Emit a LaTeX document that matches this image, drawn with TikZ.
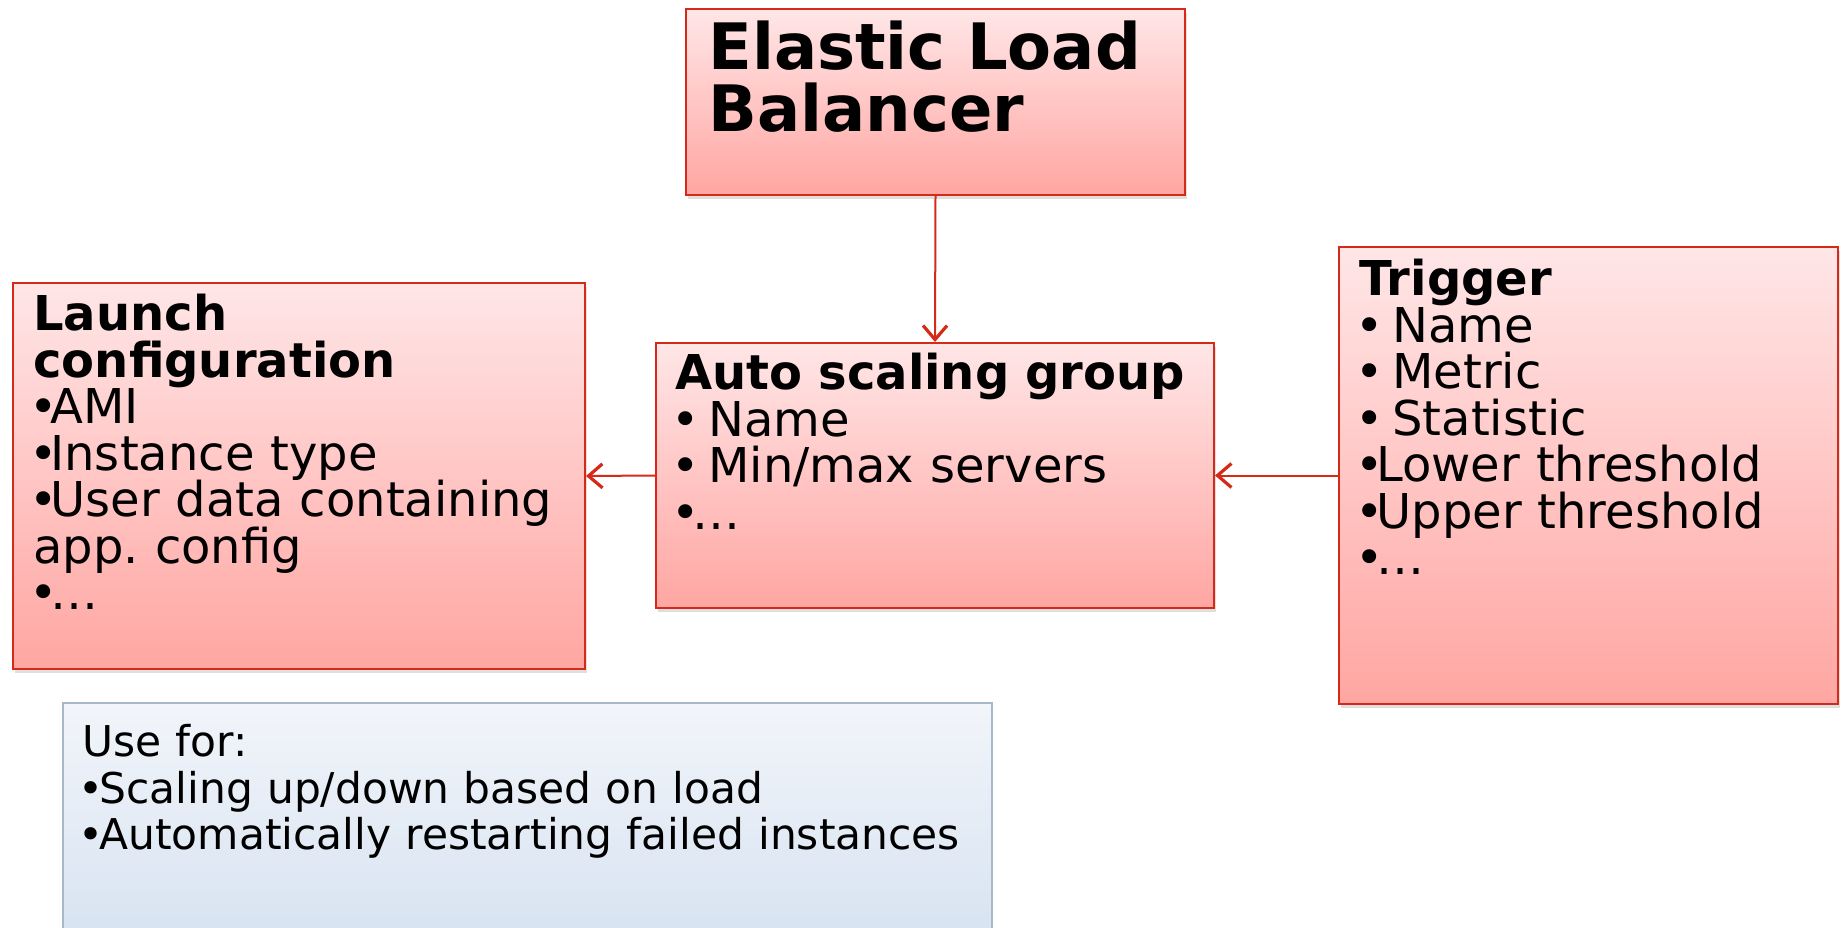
\documentclass[tikz,border=0pt]{standalone}
\usepackage{fontspec}
\setmainfont{DejaVu Sans}
\usetikzlibrary{arrows.meta, positioning, shadows}
\definecolor{boxred}{RGB}{214, 42, 24}
\definecolor{pinktop}{RGB}{255, 230, 231}
\definecolor{pinkbot}{RGB}{255, 166, 162}
\definecolor{bluetop}{RGB}{242, 245, 250}
\definecolor{bluebot}{RGB}{212, 225, 240}
\definecolor{blueedge}{RGB}{168, 184, 200}
\newcommand{\bul}{\makebox[8.5pt][l]{\hspace{-2.2pt}•}}
\frenchspacing

\tikzset{
  redbox/.style={draw=boxred, line width=1pt, top color=pinktop, bottom color=pinkbot,
    anchor=north west, inner sep=0pt,
    drop shadow={opacity=0.25, shadow xshift=1pt, shadow yshift=-2pt}},
  bluebox/.style={draw=blueedge, line width=1pt, top color=bluetop, bottom color=bluebot,
    anchor=north west, inner sep=0pt},
  boxtext/.style={anchor=north west, align=left, inner sep=0pt,
    font=\fontsize{24}{23.25}\selectfont},
  link/.style={draw=boxred, line width=1pt,
    -{Straight Barb[length=7pt, width=12pt, line width=1.6pt]}}
}

\begin{document}
\begin{tikzpicture}[x=0.5pt, y=-0.5pt]
  \useasboundingbox (0,0) rectangle (1843,927);

  % Boxes
  \node[redbox, minimum width=249.5pt, minimum height=93pt] (elb) at (685,8) {};
  \node[redbox, minimum width=286pt, minimum height=193pt] (launch) at (12,282) {};
  \node[redbox, minimum width=279pt, minimum height=132.5pt] (asg) at (655,342) {};
  \node[redbox, minimum width=249.5pt, minimum height=228.5pt] (trigger) at (1338,246) {};
  \node[bluebox, minimum width=464.5pt, minimum height=130pt] (usefor) at (62,702) {};

  % Box texts
  \node[boxtext, text width=235pt, font=\fontsize{32}{31}\selectfont\bfseries] (elbtext)
    at ([shift={(23,12)}]elb.north west) {Elastic Load\\Balancer};
  \node[boxtext, text width=270pt] (launchtext) at ([shift={(21,12)}]launch.north west)
    {\textbf{Launch}\\\textbf{configuration}\\\bul AMI\\\bul Instance type\\\bul User data containing\\app. config\\\bul…};
  \node[boxtext, text width=265pt] (asgtext) at ([shift={(20,11)}]asg.north west)
    {\textbf{Auto scaling group}\\\bul{} Name\\\bul{} Min/max servers\\\bul…};
  \node[boxtext, text width=235pt] (triggertext) at ([shift={(21,13)}]trigger.north west)
    {\textbf{Trigger}\\\bul{} Name\\\bul{} Metric\\\bul{} Statistic\\\bul Lower threshold\\\bul Upper threshold\\\bul…};
  \node[boxtext, text width=450pt, font=\fontsize{21.2}{23.25}\selectfont] (usefortext)
    at ([shift={(20,22)}]usefor.north west)
    {Use for:\\\bul Scaling up/down based on load\\\bul Automatically restarting failed instances};

  % Connectors
  \draw[link] (elb.south) -- (asg.north);
  \draw[link] (asg.west) -- (launch.east);
  \draw[link] (trigger.west) -- (asg.east);
\end{tikzpicture}
\end{document}
